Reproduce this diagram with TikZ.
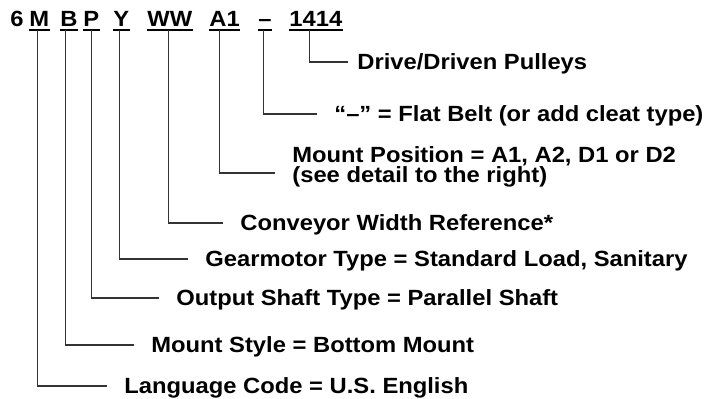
\documentclass[tikz,border=0pt]{standalone}
\usepackage{fontspec}
\setmainfont{Liberation Sans}[FakeStretch=1.08]
\begin{document}
\begin{tikzpicture}[x=0.5pt,y=-0.5pt,font=\fontsize{11}{9.8}\selectfont\bfseries,
  code/.style={anchor=base west,inner sep=0pt,text depth=0pt},
  uline/.style={line width=1pt},
  lead/.style={line width=0.6pt,black!80},
  lblbase/.style={anchor=west,inner xsep=8.5pt,inner ysep=0pt},
  lbl/.style={lblbase,text height=.72em,text depth=0pt}]
  \useasboundingbox (0,0) rectangle (708,398);
  % Model code
  \foreach \x/\t/\n in {10/6/six,29/M/mm,60/B/bb,83/P/pp,113/Y/yy,147/WW/ww,209/A1/aa,258/–/dash,289/1414/pul}
    \node[code] (\n) at (\x,26) {\t};
  \foreach \n in {mm,bb,pp,yy,ww,aa,dash,pul}
    \draw[uline] ([yshift=-1.75pt]\n.south west) -- ([yshift=-1.75pt]\n.south east);
  % Descriptions
  \node[lbl,inner xsep=4.5pt] (pulley) at (348,62) {Drive/Driven Pulleys};
  \node[lbl] (belt) at (317,114) {“–” = Flat Belt (or add cleat type)};
  \node[lblbase,align=left] (mpos) at (275,167) {Mount Position = A1, A2, D1 or D2\\(see detail to the right)};
  \node[lbl] (width) at (223,223) {Conveyor Width Reference*};
  \node[lbl] (gear) at (188,259) {Gearmotor Type = Standard Load, Sanitary};
  \node[lbl] (shaft) at (159,298) {Output Shaft Type = Parallel Shaft};
  \node[lbl] (style) at (134,345) {Mount Style = Bottom Mount};
  \node[lbl] (lang) at (107,386) {Language Code = U.S. English};
  % Leader lines
  \foreach \n/\dx/\l in {mm/-0.9/lang,bb/-1.75/style,pp/0/shaft,yy/-0.9/gear,ww/-0.6/width,dash/-0.75/belt,pul/-3/pulley}
    \draw[lead] ([xshift=\dx pt,yshift=-1.75pt]\n.south) |- (\l.west);
  \draw[lead] ([xshift=-2.5pt,yshift=-1.75pt]aa.south) |- ([yshift=-3pt]mpos.west);
\end{tikzpicture}
\end{document}
